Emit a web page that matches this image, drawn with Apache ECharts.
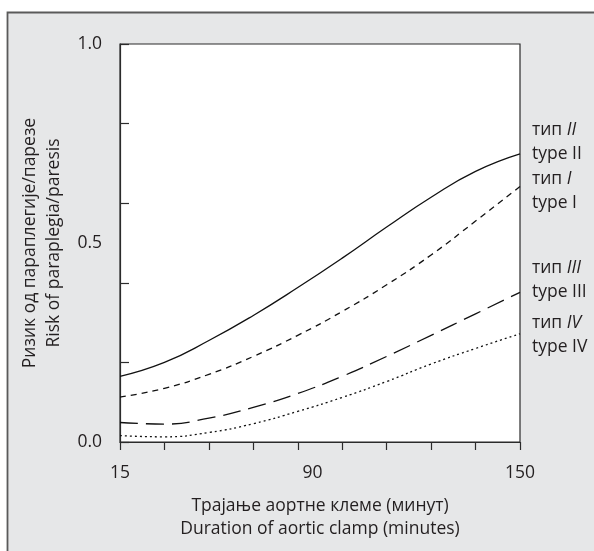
<!DOCTYPE html>
<html>
<head>
<meta charset="utf-8">
<script src="https://cdn.jsdelivr.net/npm/echarts@6/dist/echarts.min.js"></script>
<style>
html,body{margin:0;padding:0;background:#ffffff;}
#chart{width:594px;height:551px;}
</style>
</head>
<body>
<div id="chart"></div>
<script>
// ---- data ----
var durations = [15, 30, 45, 60, 75, 90, 105, 120, 135, 150];
var typeII  = [0.165, 0.200, 0.255, 0.318, 0.388, 0.462, 0.540, 0.615, 0.680, 0.724];
var typeI   = [0.113, 0.135, 0.170, 0.215, 0.268, 0.328, 0.395, 0.470, 0.555, 0.642];
var typeIII = [0.049, 0.045, 0.060, 0.087, 0.122, 0.165, 0.215, 0.268, 0.322, 0.376];
var typeIV  = [0.016, 0.013, 0.024, 0.046, 0.077, 0.112, 0.152, 0.196, 0.235, 0.272];
var seriesNumerals = ['II', 'I', 'III', 'IV'];
var xTickValues = [15, 30, 45, 60, 75, 90, 105, 120, 135, 150];
var xTickLabels = ['15', '90', '150'];
var yTickValues = [0, 0.2, 0.4, 0.6, 0.8, 1.0];
var yTickLabels = [0, 0.5, 1.0];
var xAxisTitle = 'Трајање аортне клеме (минут)\nDuration of aortic clamp (minutes)';
var yAxisTitle = 'Ризик од параплегије/парезе\nRisk of paraplegia/paresis';

// ---- chart ----
var FONT = '"Open Sans", "Noto Sans", sans-serif';
var FS = 17.5;
var TXT = '#231f20';
var chart = echarts.init(document.getElementById('chart'), null, {renderer: 'canvas'});

function pairs(ys) { return durations.map(function (x, i) { return [x, ys[i]]; }); }

// places of the x tick labels as printed in the source figure
var xLabelPlaces = [15, 80, 150];

function makeSeries(name, ys, numeral, dash, labelDy) {
  return {
    name: name,
    type: 'line',
    data: pairs(ys),
    smooth: 0.5,
    showSymbol: false,
    symbol: 'none',
    silent: true,
    lineStyle: {color: '#111111', width: 1.3, type: dash},
    endLabel: {
      show: true,
      distance: 12,
      offset: [0, labelDy],
      formatter: function () { return '{a|тип }{i|' + numeral + '}\n{a|type ' + numeral + '}'; },
      rich: {
        a: {fontFamily: FONT, fontSize: FS, color: TXT, lineHeight: 24},
        i: {fontFamily: FONT, fontSize: FS, color: TXT, fontStyle: 'italic', lineHeight: 24}
      }
    }
  };
}

var option = {
  animation: false,
  backgroundColor: 'transparent',
  graphic: [{
    type: 'rect', z: -10, silent: true,
    shape: {x: 7.5, y: 12.5, width: 700, height: 700},
    style: {fill: '#e6e7e8', stroke: '#5a5a5a', lineWidth: 1.8}
  }],
  grid: {
    left: 120, right: 74, top: 44, bottom: 109,
    show: true, backgroundColor: '#ffffff', borderColor: '#2b2b2b', borderWidth: 1.2,
    containLabel: false, outerBoundsMode: 'none'
  },
  xAxis: {
    type: 'value', min: 15, max: 150,
    axisLine: {show: true, lineStyle: {color: '#2b2b2b', width: 1.2}},
    axisTick: {show: true, inside: false, length: 8, lineStyle: {color: '#2b2b2b', width: 1.2},
               customValues: xTickValues},
    axisLabel: {
      show: true, margin: 22, fontFamily: FONT, fontSize: FS, color: TXT,
      customValues: xLabelPlaces,
      formatter: function (v) { return xTickLabels[xLabelPlaces.indexOf(v)]; }
    },
    splitLine: {show: false},
    name: xAxisTitle, nameLocation: 'middle', nameGap: 53,
    nameTextStyle: {fontFamily: FONT, fontSize: FS, color: TXT, lineHeight: 23}
  },
  yAxis: {
    type: 'value', min: 0, max: 1,
    axisLine: {show: true, lineStyle: {color: '#2b2b2b', width: 1.2}},
    axisTick: {show: true, inside: true, length: 9, lineStyle: {color: '#2b2b2b', width: 1.2},
               customValues: yTickValues},
    axisLabel: {
      show: true, margin: 18, fontFamily: FONT, fontSize: FS, color: TXT,
      customValues: yTickLabels,
      formatter: function (v) { return v.toFixed(1); }
    },
    splitLine: {show: false},
    name: yAxisTitle, nameLocation: 'middle', nameGap: 49,
    nameTextStyle: {fontFamily: FONT, fontSize: FS, color: TXT, lineHeight: 24}
  },
  series: [
    makeSeries('type II', typeII, seriesNumerals[0], 'solid', -12),
    makeSeries('type I', typeI, seriesNumerals[1], [6, 5], 5),
    makeSeries('type III', typeIII, seriesNumerals[2], [18, 8], -12),
    makeSeries('type IV', typeIV, seriesNumerals[3], [2, 3], 1)
  ]
};
chart.setOption(option);
</script>
</body>
</html>
